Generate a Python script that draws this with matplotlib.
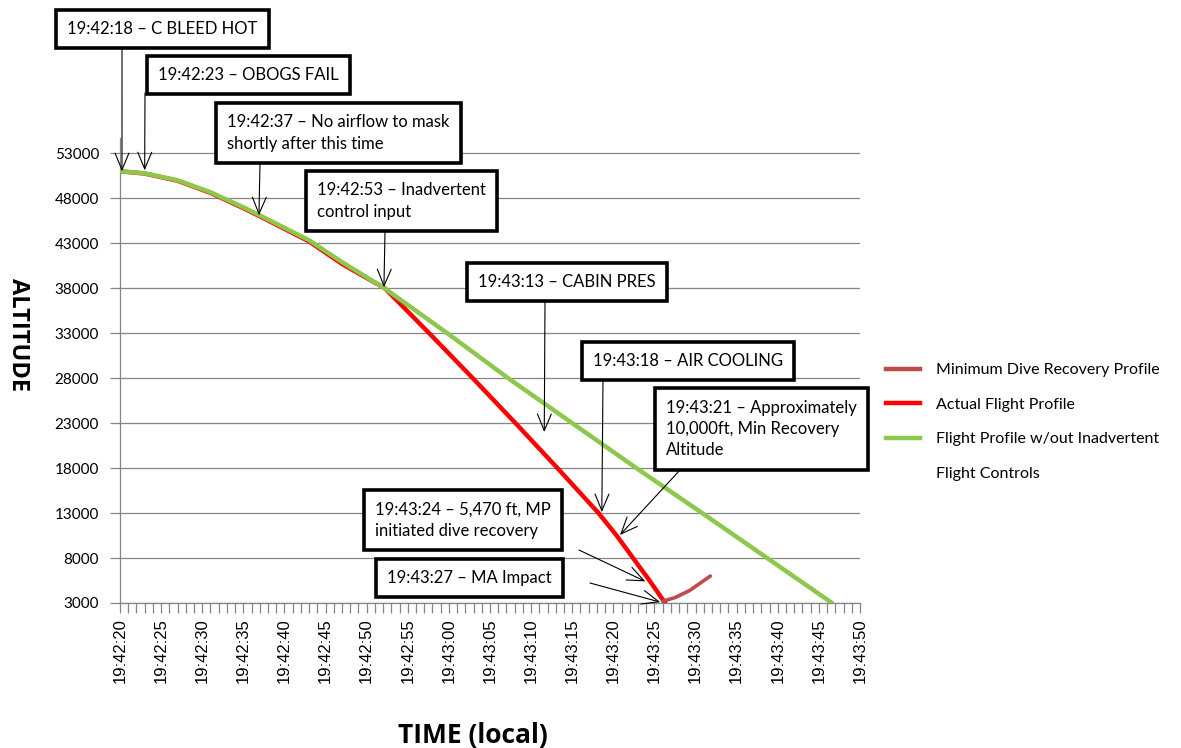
import matplotlib
matplotlib.use("Agg")
import matplotlib.pyplot as plt
from matplotlib.lines import Line2D
from matplotlib.ticker import MultipleLocator

# time axis: seconds after 19:42:20
green_t = [0, 3, 7, 11, 15, 17, 23, 27, 32, 39.8, 47.2, 55.0, 62.8, 70.8, 78.7, 86.6]
green_alt = [51000, 50780, 50000, 48670, 47000, 46100, 43330, 40900, 38100,
             33000, 28000, 23000, 18000, 13000, 8000, 3000]
red_t = [0, 3, 7, 11, 15, 17, 23, 27, 32.2, 37.6, 42.9, 48.1, 53.2, 58.2, 60.4,
         62.4, 64.4, 66.3]
red_alt = [51000, 50750, 49950, 48600, 46900, 46000, 43200, 40700, 38000,
           33000, 28000, 23000, 18000, 13000, 10500, 8000, 5500, 3000]
recov_t = [66.0, 67.5, 69.3, 71.8]
recov_alt = [3200, 3600, 4400, 6000]

xtick_labels = ["19:42:20", "19:42:25", "19:42:30", "19:42:35", "19:42:40", "19:42:45",
                "19:42:50", "19:42:55", "19:43:00", "19:43:05", "19:43:10", "19:43:15",
                "19:43:20", "19:43:25", "19:43:30", "19:43:35", "19:43:40", "19:43:45",
                "19:43:50"]
ytick_values = [3000, 8000, 13000, 18000, 23000, 28000, 33000, 38000, 43000, 48000, 53000]

event_labels = ["19:42:18 \u2013 C BLEED HOT",
                "19:42:23 \u2013 OBOGS FAIL",
                "19:42:37 \u2013 No airflow to mask\nshortly after this time",
                "19:42:53 \u2013 Inadvertent\ncontrol input",
                "19:43:13 \u2013 CABIN PRES",
                "19:43:18 \u2013 AIR COOLING",
                "19:43:21 \u2013 Approximately\n10,000ft, Min Recovery\nAltitude",
                "19:43:24 \u2013 5,470 ft, MP\ninitiated dive recovery",
                "19:43:27 \u2013 MA Impact"]
event_t = [0.24, 3.0, 16.9, 32.1, 51.6, 58.6, 60.8, 63.9, 65.7]
event_alt = [51000, 51100, 46100, 38100, 22000, 13100, 10560, 5400, 3100]

W, H = 1181, 748
FONT = "Lato"

# where the boxes and arrow tails sit on the page (pixels, from top-left)
box_text_xy = [(67, 29), (158, 75), (227, 133), (317, 201), (478, 282),
               (593, 361), (666, 429), (375, 520), (387, 578)]
arrow_tail_xy = [(122, 48), (145, 93), (260, 163), (385, 231), (545, 301),
                 (603, 380), (680, 470), (579, 550), (590, 583)]


def fig_frac(p):
    return (p[0] / W, 1 - p[1] / H)


fig = plt.figure(figsize=(W / 100, H / 100), dpi=100)
ax = fig.add_axes([120 / W, 1 - 603 / H, 740 / W, 465 / H])

grey = "#868686"
ax.plot(red_t, red_alt, color="#FF0000", lw=3.2, solid_capstyle="round",
        solid_joinstyle="round", zorder=3)
ax.plot(green_t, green_alt, color="#8CC84B", lw=3.2, solid_capstyle="round",
        solid_joinstyle="round", zorder=4)
ax.plot(recov_t, recov_alt, color="#BE4B48", lw=2.6, solid_capstyle="round",
        solid_joinstyle="round", zorder=4)

ax.set_xlim(0, 90)
ax.set_ylim(3000, 54700)
ax.set_yticks(ytick_values)
ax.set_yticklabels([str(v) for v in ytick_values], fontsize=11, family=FONT)
ax.set_xticks(range(0, 91, 5))
ax.set_xticklabels(xtick_labels, rotation=90, fontsize=12, family="Liberation Sans")
ax.xaxis.set_minor_locator(MultipleLocator(1))
ax.tick_params(axis="both", which="both", direction="out", length=7, color=grey, width=0.9)
ax.tick_params(axis="x", pad=4)
ax.tick_params(axis="y", pad=8)
ax.grid(axis="y", color=grey, lw=0.9)
ax.set_axisbelow(True)
for s in ["top", "right"]:
    ax.spines[s].set_visible(False)
for s in ["left", "bottom"]:
    ax.spines[s].set_color(grey)
    ax.spines[s].set_linewidth(0.9)

# event call-outs
for lab, t, a, txy, tail in zip(event_labels, event_t, event_alt, box_text_xy, arrow_tail_xy):
    fx, fy = fig_frac(txy)
    fig.text(fx, fy, lab, ha="left", va="center", fontsize=12, family=FONT,
             linespacing=1.4, zorder=6,
             bbox=dict(boxstyle="square,pad=0.68", fc="white", ec="black", lw=2.6))
    ax.annotate("", xy=(t, a), xycoords="data", xytext=fig_frac(tail),
                textcoords="figure fraction", annotation_clip=False,
                arrowprops=dict(arrowstyle="->,head_length=0.6,head_width=0.25",
                                mutation_scale=20, color="black", lw=0.8,
                                shrinkA=0, shrinkB=0), zorder=5)

fig.text(18 / W, 1 - 335 / H, "ALTITUDE", rotation=270, ha="center", va="center",
         fontsize=17, fontweight="bold", family="Open Sans")
fig.text(473 / W, 1 - 735 / H, "TIME (local)", ha="center", va="center",
         fontsize=19, fontweight="bold", family="Open Sans")

handles = [Line2D([], [], color="#BE4B48", lw=3.2),
           Line2D([], [], color="#FF0000", lw=3.2),
           Line2D([], [], color="#8CC84B", lw=3.2),
           Line2D([], [], color="none")]
labels = ["Minimum Dive Recovery Profile", "Actual Flight Profile",
          "Flight Profile w/out Inadvertent", "Flight Controls"]
fig.legend(handles, labels, loc="upper left", bbox_to_anchor=(886 / W, 1 - 363 / H),
           frameon=False, borderpad=0, borderaxespad=0, handlelength=2.1,
           handletextpad=1.0, labelspacing=1.28, prop={"family": FONT, "size": 11.5})

fig.savefig("out.png", dpi=100)
